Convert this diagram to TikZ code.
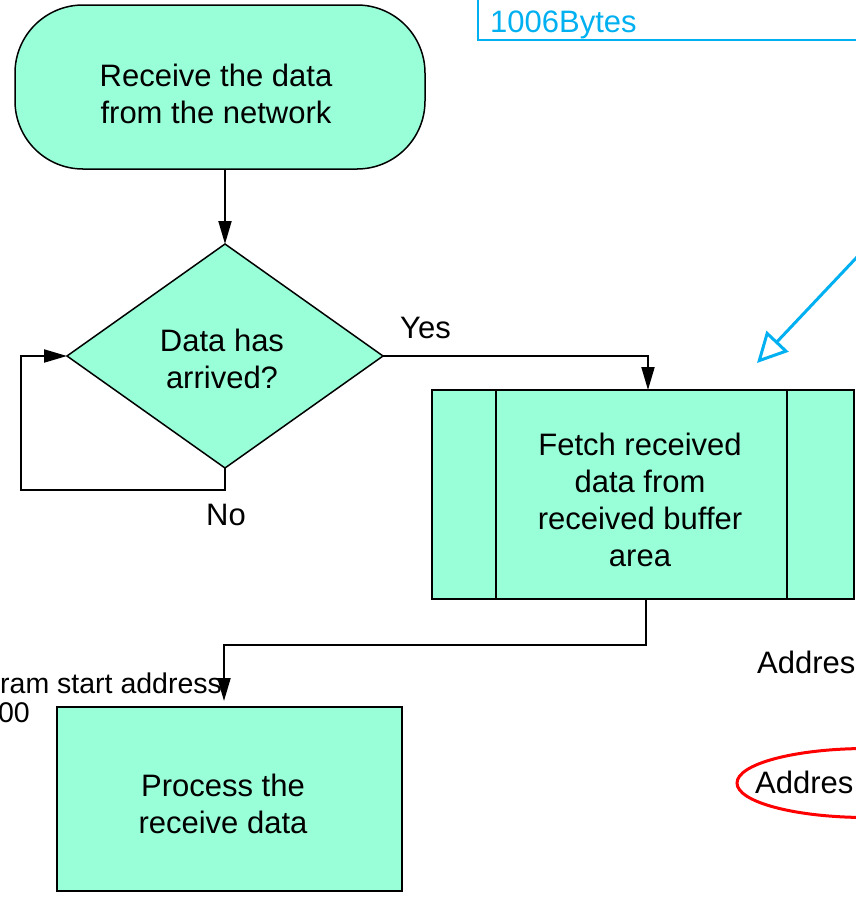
\documentclass[tikz,border=0pt]{standalone}
\usepackage{fontspec}
\setmainfont{Liberation Sans}
\usetikzlibrary{shapes.geometric,arrows.meta}
\definecolor{aqua}{RGB}{153,255,217}
\definecolor{skyb}{RGB}{0,176,240}
\definecolor{redl}{RGB}{255,0,0}
\begin{document}
\begin{tikzpicture}[x=1pt,y=-1pt,
 txt/.style={font=\fontsize{31}{37}\selectfont, inner sep=0pt, align=center},
 smalltxt/.style={font=\fontsize{28.5}{34}\selectfont, inner sep=0pt},
 shapebox/.style={draw=black, fill=aqua, line width=2pt, inner sep=0pt, outer sep=0pt},
 conn/.style={draw=black, line width=2pt},
 arr/.style={-{Triangle[length=23pt,width=13pt]}}
]
\useasboundingbox (0,0) rectangle (856,898);
\clip (0,0) rectangle (856,898);

% shapes
\node[shapebox, line width=1.5pt, rounded corners=68pt, minimum width=410pt, minimum height=164pt] (term) at (220,87) {};
\node[shapebox, line width=1.5pt, diamond, minimum width=316pt, minimum height=224pt] (dec) at (225,356) {};
\node[shapebox, minimum width=422pt, minimum height=209pt] (fetch) at (643,494.5) {};
\node[shapebox, minimum width=345pt, minimum height=184pt] (proc) at (229.5,799) {};
\draw[conn] ([xshift=64pt]fetch.north west) -- ([xshift=64pt]fetch.south west);
\draw[conn] ([xshift=-67pt]fetch.north east) -- ([xshift=-67pt]fetch.south east);

% texts in shapes
\node[txt] (termt) at (216,93.7) {Receive the data\\from the network};
\node[txt] (dect) at (222,359) {Data has\\arrived?};
\node[txt] (fetcht) at (640,500) {Fetch received\\data from\\received buffer\\area};
\node[txt] (proct) at (223,804) {Process the\\receive data};

% connectors
\draw[conn, arr] (dec.north |- term.south) -- (dec.north);
\draw[conn, arr] (dec.east) -| ([xshift=5pt]fetch.north);
\coordinate (lp1) at (224,490);
\coordinate (lp2) at (21,490);
\draw[conn, arr] (dec.south) -- (dec.south |- lp1) -- (lp2) |- (dec.west);
\coordinate (mid) at (0,645);
\draw[conn, arr, shorten >=6pt] ([xshift=3pt]fetch.south) -- ([xshift=3pt]fetch.south |- mid) -| ([xshift=-5.5pt]proc.north);

% labels
\node[txt, anchor=base west] (yes) at (400,338) {Yes};
\node[txt, anchor=base west] (no) at (206,525) {No};
\node[smalltxt, anchor=base west] (ram) at (0,693) {ram start address};
\node[smalltxt, anchor=base east] (zz) at (30,722) {00};
\node[txt, anchor=base west] (addr1) at (757,673) {Addres};
\node[draw=redl, line width=3pt, ellipse, minimum width=260pt, minimum height=69pt, inner sep=0pt] (ell) at (867,783) {};
\node[txt, anchor=base west] (addr2) at (755,793) {Addres};

% blue annotation
\node[draw=skyb, line width=2pt, minimum width=422pt, minimum height=100pt, inner sep=0pt, outer sep=0pt] (bbox) at (689,-10) {};
\node[txt, anchor=base west, text=skyb] (bytes) at (490,32) {1006Bytes};
\coordinate (bs) at (858,256);
\coordinate (be) at (757,363);
\draw[skyb, line width=3pt, -{Triangle[open,length=30pt,width=30pt]}] (bs) -- (be);
\end{tikzpicture}
\end{document}
